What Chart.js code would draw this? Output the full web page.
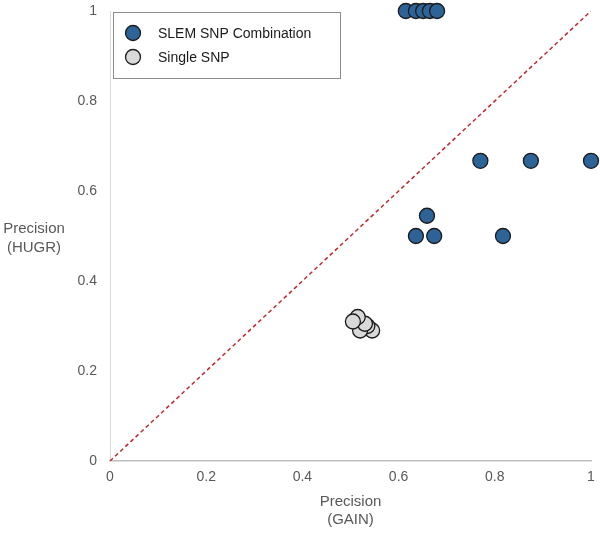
<!DOCTYPE html>
<html>
<head>
<meta charset="utf-8">
<script src="https://cdn.jsdelivr.net/npm/chart.js@4.4.1/dist/chart.umd.min.js"></script>
<style>
  html, body { margin: 0; padding: 0; background: #ffffff; }
  #wrap { width: 600px; height: 533px; position: relative; }
</style>
</head>
<body>
<div id="wrap"><canvas id="precisionChart"></canvas></div>
<script>
  const seriesNames = ["SLEM SNP Combination", "Single SNP"];
  const slemX = [0.615, 0.636, 0.651, 0.665, 0.68, 0.77, 0.875, 1.0, 0.659, 0.636, 0.674, 0.817];
  const slemY = [1.0, 1.0, 1.0, 1.0, 1.0, 0.667, 0.667, 0.667, 0.545, 0.5, 0.5, 0.5];
  const singleX = [0.545, 0.535, 0.52, 0.53, 0.515, 0.505];
  const singleY = [0.29, 0.3, 0.29, 0.305, 0.32, 0.31];
  const diagX = [0, 1];
  const diagY = [0, 1];
  const xTitle = ["Precision", "(GAIN)"];
  const yTitle = ["Precision", "(HUGR)"];

  const fontFamily = "'Liberation Sans', Arial, sans-serif";
  const tickColor = "#595959";
  const slemFill = "#2e6398";
  const singleFill = "#d9d9d9";
  const markerEdge = "#1b1b1b";

  function toPoints(xs, ys) {
    return xs.map((x, i) => ({ x: x, y: ys[i] }));
  }

  function tickLabel(value) {
    return String(Math.round(value * 10) / 10);
  }

  // y title is horizontal and the legend has a box, so draw both by hand
  const extrasPlugin = {
    id: "extras",
    afterDraw(chart) {
      const ctx = chart.ctx;
      const area = chart.chartArea;
      ctx.save();
      ctx.font = "15px " + fontFamily;
      ctx.fillStyle = tickColor;
      ctx.textAlign = "center";
      ctx.textBaseline = "middle";
      ctx.fillText(yTitle[0], 34, 229);
      ctx.fillText(yTitle[1], 34, 248);

      const boxX = area.left + 3;
      const boxY = area.top + 1;
      ctx.fillStyle = "#ffffff";
      ctx.fillRect(boxX, boxY, 227, 66);
      ctx.strokeStyle = "#8c8c8c";
      ctx.lineWidth = 1;
      ctx.strokeRect(boxX + 0.5, boxY + 0.5, 227, 66);

      ctx.font = "14px " + fontFamily;
      ctx.textAlign = "left";
      const rows = [0, 1];
      rows.forEach((i) => {
        const ds = chart.data.datasets[i];
        const cy = boxY + 21 + i * 24;
        ctx.beginPath();
        ctx.arc(boxX + 20, cy, 7.5, 0, Math.PI * 2);
        ctx.fillStyle = ds.backgroundColor;
        ctx.fill();
        ctx.lineWidth = 1.3;
        ctx.strokeStyle = ds.borderColor;
        ctx.stroke();
        ctx.fillStyle = "#1a1a1a";
        ctx.fillText(ds.label, boxX + 45, cy + 1);
      });
      ctx.restore();
    }
  };

  new Chart(document.getElementById("precisionChart").getContext("2d"), {
    type: "scatter",
    data: {
      datasets: [
        {
          label: seriesNames[0],
          data: toPoints(slemX, slemY),
          backgroundColor: slemFill,
          borderColor: markerEdge,
          borderWidth: 1.3,
          pointRadius: 7.5,
          clip: false,
          order: 1
        },
        {
          label: seriesNames[1],
          data: toPoints(singleX, singleY),
          backgroundColor: singleFill,
          borderColor: markerEdge,
          borderWidth: 1.3,
          pointRadius: 7.5,
          clip: false,
          order: 1
        },
        {
          label: "diagonal",
          data: toPoints(diagX, diagY),
          showLine: true,
          borderColor: "#c0282d",
          borderWidth: 1.5,
          borderDash: [4, 3],
          pointRadius: 0,
          order: 2
        }
      ]
    },
    options: {
      responsive: true,
      maintainAspectRatio: false,
      animation: false,
      layout: { padding: { top: 11, right: 9, bottom: 0, left: 0 } },
      plugins: {
        legend: { display: false },
        tooltip: { enabled: false }
      },
      scales: {
        x: {
          type: "linear",
          min: 0,
          max: 1,
          ticks: { stepSize: 0.2, color: tickColor, font: { family: fontFamily, size: 14 }, padding: 8, callback: tickLabel },
          grid: { display: false, drawTicks: false },
          border: { display: true, color: "#bfbfbf", width: 1.5 },
          title: {
            display: true,
            text: xTitle,
            color: tickColor,
            font: { family: fontFamily, size: 15 },
            padding: { top: 6 }
          },
          afterFit(scale) {
            scale.height = 72;
            scale.paddingLeft = 0;
            scale.paddingRight = 0;
          }
        },
        y: {
          type: "linear",
          min: 0,
          max: 1,
          ticks: { stepSize: 0.2, color: tickColor, font: { family: fontFamily, size: 14 }, padding: 13, callback: tickLabel },
          grid: { display: false, drawTicks: false },
          border: { display: true, color: "#d9d9d9", width: 1 },
          afterFit(scale) {
            scale.width = 110;
            scale.paddingTop = 0;
            scale.paddingBottom = 0;
          }
        }
      }
    },
    plugins: [extrasPlugin]
  });
</script>
</body>
</html>
